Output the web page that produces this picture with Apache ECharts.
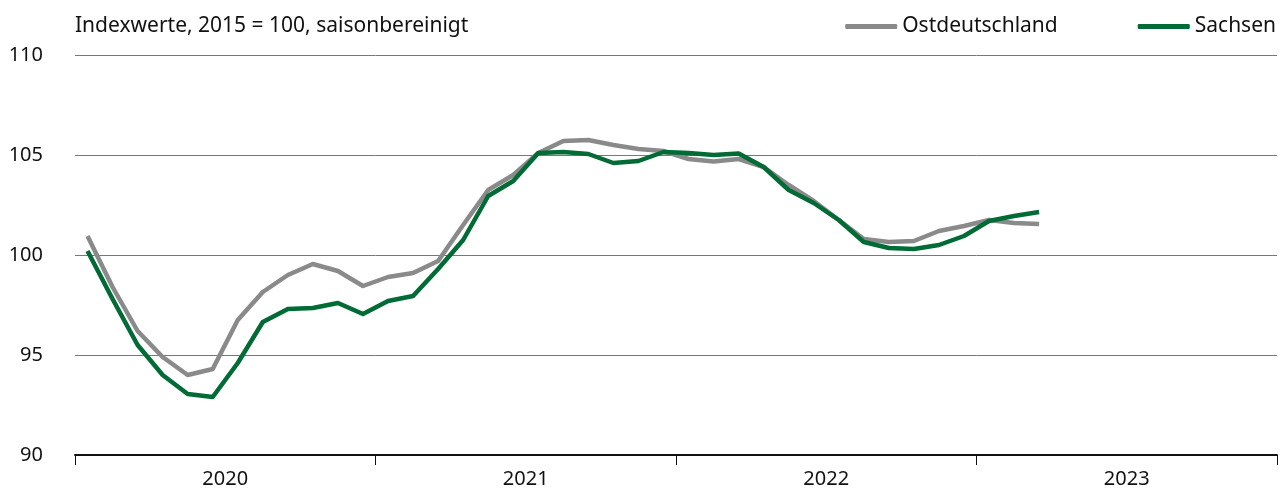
<!DOCTYPE html>
<html>
<head>
<meta charset="utf-8">
<script src="https://cdn.jsdelivr.net/npm/echarts@6/dist/echarts.min.js"></script>
<style>
  html, body { margin: 0; padding: 0; background: #fff; }
  #chart { width: 1287px; height: 491px; }
</style>
</head>
<body>
<div id="chart"></div>
<script>
// Jahre auf der x-Achse, Monatswerte ab Januar 2020
var years = ['2020', '2021', '2022', '2023'];
var monthsPerYear = 12;
var yTicks = [90, 95, 100, 105, 110];

var ostdeutschland = [100.95, 98.4, 96.2, 94.9, 94.0, 94.3, 96.75, 98.15, 99.0, 99.55, 99.2, 98.45,
    98.9, 99.1, 99.7, 101.5, 103.25, 104.0, 105.1, 105.7, 105.75, 105.5, 105.3, 105.2,
    104.8, 104.67, 104.8, 104.4, 103.5, 102.7, 101.75, 100.8, 100.65, 100.7, 101.2, 101.45,
    101.75, 101.6, 101.55];
var sachsen = [100.2, 97.8, 95.5, 94.0, 93.05, 92.9, 94.6, 96.65, 97.3, 97.35, 97.6, 97.05,
    97.7, 97.95, 99.3, 100.75, 102.95, 103.7, 105.1, 105.15, 105.05, 104.6, 104.7, 105.15,
    105.1, 105.0, 105.08, 104.4, 103.25, 102.6, 101.75, 100.65, 100.35, 100.3, 100.5, 100.95,
    101.7, 101.95, 102.15];

// Monatsmitte als Position auf der versteckten Werteachse
function toPoints(arr) {
    return arr.map(function (v, i) { return [i + 0.5, v]; });
}

var font = 'Noto Sans, Open Sans, sans-serif';

var option = {
    animation: false,
    title: {
        text: 'Indexwerte, 2015 = 100, saisonbereinigt',
        left: 70,
        top: 11,
        textStyle: { fontFamily: font, fontSize: 21, fontWeight: 'normal', color: '#111' }
    },
    legend: {
        right: 6,
        top: 11,
        itemWidth: 52,
        itemHeight: 5,
        itemGap: 80,
        icon: 'roundRect',
        textStyle: { fontFamily: font, fontSize: 21, color: '#111' },
        data: ['Ostdeutschland', 'Sachsen']
    },
    grid: { left: 75, right: 10, top: 55, bottom: 36, containLabel: false },
    xAxis: [{
        type: 'category',
        data: years,
        boundaryGap: true,
        axisLine: { lineStyle: { color: '#111', width: 2 } },
        axisTick: { show: true, length: 10, lineStyle: { color: '#111', width: 1 } },
        axisLabel: { fontFamily: font, fontSize: 20, color: '#111', margin: 14 }
    }, {
        type: 'value',
        min: 0,
        max: years.length * monthsPerYear,
        show: false
    }],
    yAxis: {
        type: 'value',
        min: yTicks[0],
        max: yTicks[yTicks.length - 1],
        interval: 5,
        axisLine: { show: false },
        axisTick: { show: false },
        axisLabel: { fontFamily: font, fontSize: 20, color: '#111', margin: 32 },
        splitLine: { lineStyle: { color: '#777', width: 1 } }
    },
    series: [{
        name: 'Ostdeutschland',
        type: 'line',
        xAxisIndex: 1,
        data: toPoints(ostdeutschland),
        symbol: 'none',
        color: '#8a8a8a',
        lineStyle: { width: 4.5, color: '#8a8a8a', join: 'round' }
    }, {
        name: 'Sachsen',
        type: 'line',
        xAxisIndex: 1,
        data: toPoints(sachsen),
        symbol: 'none',
        color: '#006b35',
        lineStyle: { width: 4.5, color: '#006b35', join: 'round' }
    }]
};

var myChart = echarts.init(document.getElementById('chart'));
myChart.setOption(option);
</script>
</body>
</html>
